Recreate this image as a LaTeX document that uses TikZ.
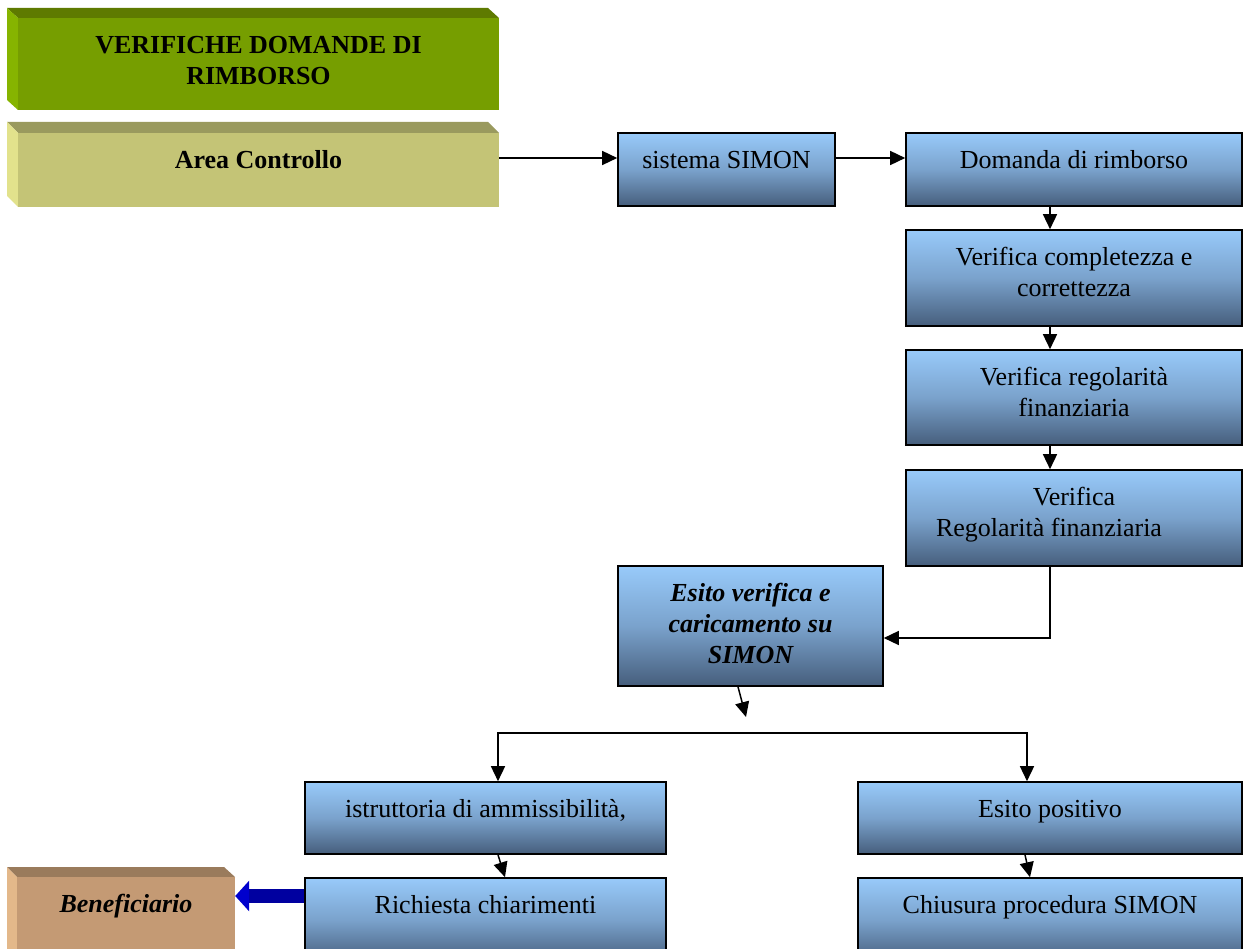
\documentclass[tikz,border=0pt]{standalone}
\usepackage{fontspec}
\setmainfont{Liberation Serif}
\usetikzlibrary{arrows.meta}
\definecolor{bTop}{RGB}{152,202,250}
\definecolor{bMid}{RGB}{122,162,204}
\definecolor{bBot}{RGB}{70,94,124}
\definecolor{gFront}{RGB}{118,158,0}
\definecolor{gTop}{RGB}{94,122,0}
\definecolor{gLeft}{RGB}{134,180,0}
\definecolor{aFront}{RGB}{196,196,118}
\definecolor{aTop}{RGB}{154,154,94}
\definecolor{aLeft}{RGB}{226,226,140}
\definecolor{tFront}{RGB}{196,154,116}
\definecolor{tTop}{RGB}{154,123,92}
\definecolor{tLeft}{RGB}{227,184,138}
\definecolor{darkBlue}{RGB}{0,0,160}
\definecolor{headBlue}{RGB}{0,0,205}
\begin{document}
\begin{tikzpicture}[x=1pt,y=-1pt,
  bbox/.style={draw=black,line width=1.6pt,top color=bTop,bottom color=bBot,middle color=bMid,inner sep=0pt},
  face/.style={inner sep=0pt,draw=none},
  txt/.style={anchor=north,inner sep=0pt,align=center,font=\fontsize{26}{31}\selectfont},
  btxt/.style={txt,font=\fontsize{26}{31}\selectfont\bfseries},
  bitxt/.style={txt,font=\fontsize{26}{31}\selectfont\bfseries\itshape},
  arr/.style={draw=black,line width=1.5pt,-{Triangle[length=15pt,width=14pt]}},
  ]
\useasboundingbox (0,0) rectangle (1243,949);
\clip (0,0) rectangle (1243,949);
\fill[white] (0,0) rectangle (1243,949);

% header 3D box
\fill[gTop] (7,8) -- (488,8) -- (499,18) -- (18,18) -- cycle;
\fill[gLeft] (7,8) -- (18,18) -- (18,110) -- (7,100) -- cycle;
\node[face,fill=gFront,minimum width=481pt,minimum height=92pt] (head) at (258.5,64) {};
\node[btxt] at ([yshift=-14pt]head.north) {\strut VERIFICHE DOMANDE DI\\RIMBORSO};

% Area Controllo 3D box
\fill[aTop] (7,122) -- (488,122) -- (499,133) -- (18,133) -- cycle;
\fill[aLeft] (7,122) -- (18,133) -- (18,207) -- (7,196) -- cycle;
\node[face,fill=aFront,minimum width=481pt,minimum height=74pt] (area) at (258.5,170) {};
\node[btxt] at ([yshift=-14pt]area.north) {\strut Area Controllo};

% Beneficiario 3D box
\fill[tTop] (7,867) -- (224,867) -- (235,877) -- (17,877) -- cycle;
\fill[tLeft] (7,867) -- (17,877) -- (17,960) -- (7,950) -- cycle;
\node[face,fill=tFront,minimum width=218pt,minimum height=83pt] (benef) at (126,918.5) {};
\node[bitxt] at ([yshift=-14pt]benef.north) {\strut Beneficiario};

% blue boxes
\node[bbox,minimum width=217pt,minimum height=73pt] (simon) at (726.5,169.5) {};
\node[bbox,minimum width=336pt,minimum height=73pt] (domanda) at (1074,169.5) {};
\node[bbox,minimum width=336pt,minimum height=96pt] (compl) at (1074,278) {};
\node[bbox,minimum width=336pt,minimum height=95pt] (regol) at (1074,397.5) {};
\node[bbox,minimum width=336pt,minimum height=96pt] (regol2) at (1074,518) {};
\node[bbox,minimum width=265pt,minimum height=120pt] (esito) at (750.5,626) {};
\node[bbox,minimum width=361pt,minimum height=72pt] (istr) at (485.5,818) {};
\node[bbox,minimum width=361pt,minimum height=84pt] (rich) at (485.5,920) {};
\node[bbox,minimum width=384pt,minimum height=72pt] (pos) at (1050,818) {};
\node[bbox,minimum width=384pt,minimum height=84pt] (chius) at (1050,920) {};

\node[txt] at ([yshift=-14pt]simon.north) {\strut sistema SIMON};
\node[txt] at ([yshift=-14pt]domanda.north) {\strut Domanda di rimborso};
\node[txt] at ([yshift=-14pt]compl.north) {\strut Verifica completezza e\\correttezza};
\node[txt] at ([yshift=-14pt]regol.north) {\strut Verifica regolarità\\finanziaria};
\node[txt] at ([yshift=-14pt]regol2.north) {\strut Verifica\\Regolarità finanziaria\hspace*{50pt}};
\node[bitxt] at ([yshift=-14pt]esito.north) {\strut Esito verifica e\\caricamento su\\SIMON};
\node[txt] at ([yshift=-14pt]istr.north) {\strut istruttoria di ammissibilità,};
\node[txt] at ([yshift=-14pt]rich.north) {\strut Richiesta chiarimenti};
\node[txt] at ([yshift=-14pt]pos.north) {\strut Esito positivo};
\node[txt] at ([yshift=-14pt]chius.north) {\strut Chiusura procedura SIMON};

% connectors
\draw[arr] ([yshift=12pt]area.east) -- ([yshift=11.5pt]simon.west);
\draw[arr] ([yshift=11.5pt]simon.east) -- ([yshift=11.5pt]domanda.west);
\draw[arr] ([xshift=-24pt]domanda.south) -- ([xshift=-24pt]compl.north);
\draw[arr] ([xshift=-24pt]compl.south) -- ([xshift=-24pt]regol.north);
\draw[arr] ([xshift=-24pt]regol.south) -- ([xshift=-24pt]regol2.north);
\draw[arr] ([xshift=-24pt]regol2.south) |- ([yshift=-12pt]esito.east);
\coordinate (esitoEnd) at (746,717);
\draw[arr] ([xshift=-12.5pt]esito.south) -- (esitoEnd);
\coordinate (split) at (760,733);
\draw[arr] (split) -| ([xshift=12.5pt]istr.north);
\draw[arr] (split) -| ([xshift=-23pt]pos.north);
\draw[arr] ([xshift=12.5pt]istr.south) -- ([xshift=19.5pt]rich.north);
\draw[arr] ([xshift=-25pt]pos.south) -- ([xshift=-20pt]chius.north);
\draw[darkBlue,line width=14pt,-{Triangle[length=14pt,width=30pt,color=headBlue]}] ([yshift=24pt]rich.west) -- ([yshift=22.5pt]benef.east);
\end{tikzpicture}
\end{document}
